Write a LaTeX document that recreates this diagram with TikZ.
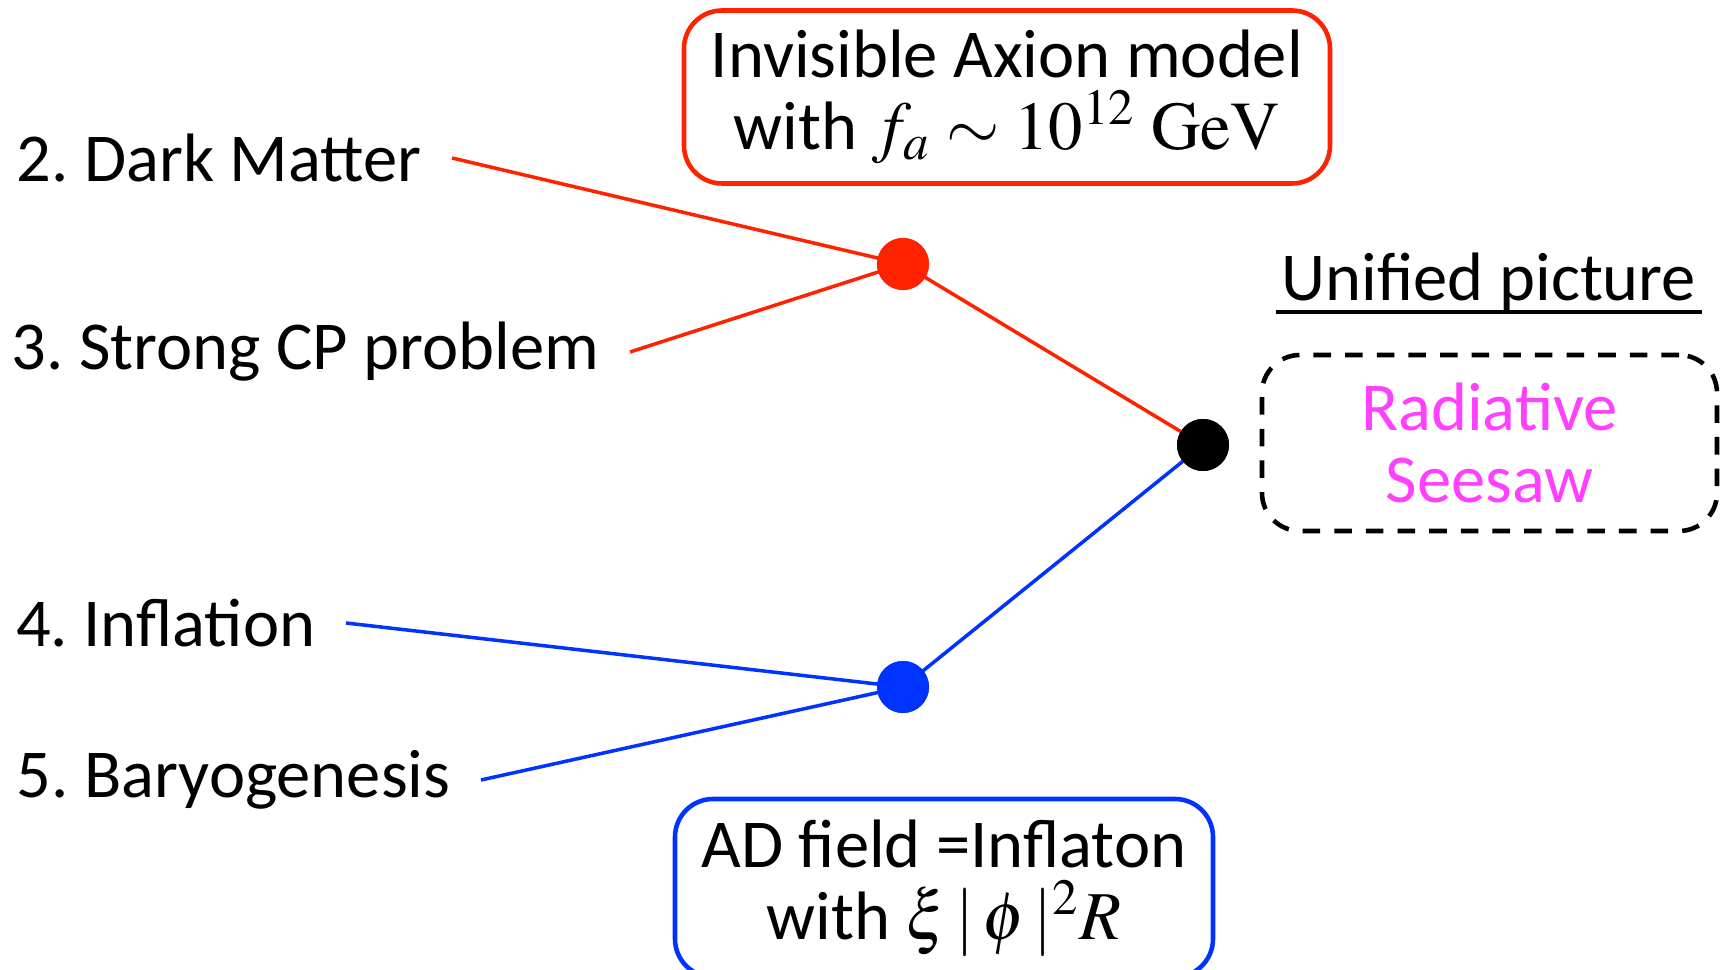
\documentclass[tikz,border=0pt]{standalone}
\usepackage{mathptmx}
\usepackage[no-math]{fontspec}
\setmainfont{Carlito}
\usetikzlibrary{positioning}
\frenchspacing

\definecolor{axred}{RGB}{255,34,0}
\definecolor{adblue}{RGB}{0,51,255}
\definecolor{seesaw}{RGB}{255,64,255}

\tikzset{
  lbl/.style={anchor=east, inner xsep=0.3cm, inner ysep=0pt},
  dot/.style={circle, fill, inner sep=0pt, minimum size=0.52cm},
  modelbox/.style={draw, line width=1.3pt, rounded corners=0.38cm, align=center, inner sep=0pt},
  link/.style={line width=1pt}
}

\begin{document}
\begin{tikzpicture}[font=\fontsize{19.5}{20.5}\selectfont]
      \useasboundingbox (0,0) rectangle (17.23,9.70);

      % Problems on the left
      \node[lbl] (dm) at (4.52,8.12) {2. Dark Matter};
      \node[lbl] (cp) at (6.30,6.18) {3. Strong CP problem};
      \node[lbl] (inf) at (3.46,3.47) {4. Inflation};
      \node[lbl] (bary) at (4.81,1.90) {5. Baryogenesis};

      % Junctions
      \node[dot, axred] (rdot) at (9.03,7.06) {};
      \node[dot, black] (kdot) at (12.03,5.25) {};
      \node[dot, adblue] (bdot) at (9.03,2.83) {};

      % Models
      \node[modelbox, axred, minimum width=6.46cm, minimum height=1.73cm] (axion) at (10.07,8.73)
        {\color{black}Invisible Axion model\\\color{black}with $f_a \sim 10^{12}\ \mathrm{GeV}$};
      \node[modelbox, adblue, minimum width=5.38cm, minimum height=1.78cm] (ad) at (9.44,0.82)
        {\color{black}AD field =Inflaton\\\color{black}with $\xi\,|\,\phi\,|^2 R$};

      % Unified picture
      \node[inner sep=0pt] (uni) at (14.89,6.88) {Unified picture};
      \draw[line width=1.2pt] ([xshift=-0.05cm]uni.south west) -- ([xshift=0.05cm]uni.south east);
      \node[modelbox, black, dashed, dash pattern=on 5pt off 4pt, minimum width=4.55cm, minimum height=1.76cm,
        text=seesaw] (rs) at (14.895,5.27) {Radiative\\Seesaw};

      % Connections
      \draw[link, axred] (dm.east) -- (rdot.center);
      \draw[link, axred] (cp.east) -- (rdot.center);
      \draw[link, axred] (rdot.center) -- (kdot.center);
      \draw[link, adblue] (inf.east) -- (bdot.center);
      \draw[link, adblue] (bary.east) -- (bdot.center);
      \draw[link, adblue] (bdot.center) -- (kdot.center);

      % dots on top of lines
      \fill[axred] (rdot) circle (0.26);
      \fill[black] (kdot) circle (0.26);
      \fill[adblue] (bdot) circle (0.26);

      \end{tikzpicture}
\end{document}
